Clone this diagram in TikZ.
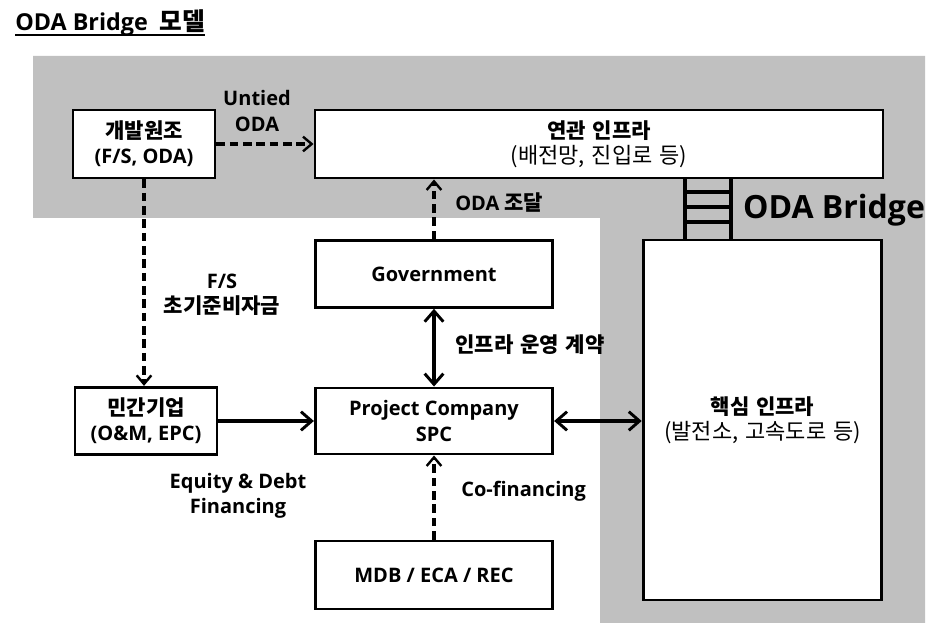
\documentclass[tikz,border=0pt]{standalone}
\usepackage{fontspec}
\setmainfont{Open Sans}
\newfontfamily\kr[WordSpace=1.4]{Noto Sans CJK KR}
\usetikzlibrary{arrows.meta}
\definecolor{bandgray}{HTML}{C0C0C0}
\newcommand{\kor}[1]{{\kr\fontsize{15.8}{19}\selectfont #1}}
\newcommand{\korm}[1]{{\kr\mdseries\fontsize{16.5}{19}\selectfont #1}}
\tikzset{
  txt/.style={font=\fontsize{15}{19}\selectfont\bfseries, align=center, inner sep=0pt},
  box/.style={txt, draw, line width=2.2pt, fill=white},
  dasharrow/.style={line width=2.3pt, dash pattern=on 6.5pt off 3.5pt, -{Straight Barb[length=6.5pt,width=11pt,line width=1.8pt]}},
  solidarrow/.style={line width=2.6pt, -{Straight Barb[length=8pt,width=14pt,line width=2.2pt]}},
  solidboth/.style={line width=2.6pt, {Straight Barb[length=8pt,width=14pt,line width=2.2pt]}-{Straight Barb[length=8pt,width=14pt,line width=2.2pt]}},
}
\begin{document}
\begin{tikzpicture}[x=0.75pt,y=-0.75pt]
\useasboundingbox (0,0) rectangle (944,623);
% gray region
\fill[bandgray] (33,56) -- (925,56) -- (925,623) -- (600,623) -- (600,218) -- (33,218) -- cycle;
% title
\node[txt, font=\fontsize{17.5}{20}\selectfont\bfseries, anchor=base west] (title) at (15,31) {ODA Bridge\hspace{0.5em}{\kr\fontsize{18.5}{20}\selectfont 모델}};
\draw[line width=1.2pt] ([yshift=-3pt]title.base west) -- ([yshift=-3pt]title.base east);
% boxes
\node[box, minimum width=106.5pt, minimum height=51pt] (dev) at (144,144) {\kor{개발원조}\\(F/S, ODA)};
\node[box, minimum width=426pt, minimum height=51pt] (rel) at (599,144) {\kor{연관 인프라}\\\korm{(배전망, 진입로 등)}};
\node[box, minimum width=178pt, minimum height=50pt] (gov) at (434,274) {Government};
\node[box, minimum width=178pt, minimum height=49.5pt] (pc) at (434,421) {Project Company\\SPC};
\node[box, minimum width=106.5pt, minimum height=50.5pt] (priv) at (146,421) {\kor{민간기업}\\(O\&M, EPC)};
\node[box, minimum width=178pt, minimum height=51pt] (mdb) at (434,575) {MDB / ECA / REC};
\node[box, minimum width=179pt, minimum height=270pt] (core) at (762.5,420) {\kor{핵심 인프라}\\\korm{(발전소, 고속도로 등)}};
% ladder
\draw[line width=3pt] (685,178) -- (685,240) (731,178) -- (731,240);
\foreach \yy in {192,207,222} \draw[line width=3pt] (685,\yy) -- (731,\yy);
\node[txt, font=\fontsize{24}{28}\selectfont\bfseries] (bridge) at (834,210) {ODA Bridge};
% connectors
\draw[dasharrow] (dev.east) -- (rel.west |- dev.east);
\node[txt] (l1) at (257,111) {Untied\\ODA};
\draw[dasharrow] (dev.south) -- (priv.north -| dev.south);
\node[txt] (l2) at (222,295) {F/S\\\kor{초기준비자금}};
\draw[dasharrow] (gov.north) -- (rel.south -| gov.north);
\node[txt, anchor=west] (l3) at (455,203) {ODA \kor{조달}};
\draw[solidboth] (gov.south) -- (pc.north);
\node[txt, anchor=west] (l4) at (455,345) {\kor{인프라 운영 계약}};
\draw[solidarrow] (priv.east) -- (pc.west);
\node[txt] (l5) at (238,496) {Equity \& Debt\\Financing};
\draw[dasharrow] (mdb.north) -- (pc.south);
\node[txt, anchor=west] (l6) at (461,491) {Co-financing};
\draw[solidboth] (pc.east) -- (core.west |- pc.east);
\end{tikzpicture}
\end{document}
